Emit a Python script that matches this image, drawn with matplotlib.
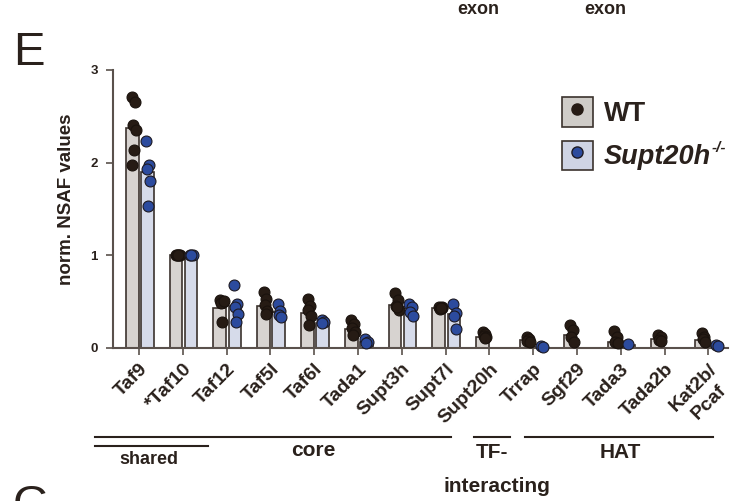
import matplotlib
matplotlib.use('Agg')
import matplotlib.pyplot as plt
from matplotlib.patches import Patch
from matplotlib.lines import Line2D
from matplotlib.legend_handler import HandlerTuple

plt.rcParams['font.family'] = ['Liberation Sans', 'DejaVu Sans']
narrow = ['Liberation Sans Narrow', 'Liberation Sans', 'DejaVu Sans']

genes = ['Taf9', '*Taf10', 'Taf12', 'Taf5l', 'Taf6l', 'Tada1', 'Supt3h', 'Supt7l',
         'Supt20h', 'Trrap', 'Sgf29', 'Tada3', 'Tada2b', 'Kat2b/\nPcaf']

wt_mean = [2.37, 1.00, 0.43, 0.45, 0.38, 0.20, 0.46, 0.43, 0.12, 0.09, 0.14, 0.06, 0.10, 0.09]
ko_mean = [1.90, 1.00, 0.45, 0.39, 0.27, 0.07, 0.40, 0.37, 0.00, 0.01, 0.00, 0.03, 0.00, 0.02]

wt_points = [
    [2.71, 2.66, 2.41, 2.35, 2.14, 1.98],
    [1.00, 1.00, 1.00, 1.00, 1.00],
    [0.52, 0.50, 0.49, 0.51, 0.28],
    [0.60, 0.53, 0.46, 0.40, 0.37],
    [0.53, 0.45, 0.41, 0.34, 0.25],
    [0.30, 0.26, 0.22, 0.17, 0.14],
    [0.59, 0.52, 0.45, 0.41, 0.44],
    [0.44, 0.43, 0.42, 0.44, 0.43],
    [0.17, 0.15, 0.13, 0.12, 0.11],
    [0.12, 0.10, 0.08, 0.07],
    [0.25, 0.19, 0.12, 0.07],
    [0.18, 0.12, 0.07, 0.05],
    [0.14, 0.12, 0.09, 0.08],
    [0.16, 0.12, 0.10, 0.07],
]
ko_points = [
    [2.23, 1.97, 1.93, 1.80, 1.53],
    [1.00, 1.00, 1.00],
    [0.68, 0.48, 0.44, 0.37, 0.28],
    [0.47, 0.40, 0.36, 0.33],
    [0.30, 0.28, 0.27],
    [0.10, 0.07, 0.05],
    [0.48, 0.44, 0.39, 0.34],
    [0.48, 0.38, 0.34, 0.21],
    [],
    [0.02, 0.01],
    [],
    [0.04],
    [],
    [0.03, 0.02],
]

wt_fill, ko_fill = '#d7d3d0', '#d6dbea'
edge = '#3b322d'
ink = '#2a211c'
wt_dot, ko_dot = '#261b14', '#2c4b9e'
jitter = [-0.03, 0.03, -0.01, 0.05, 0.01, -0.04]

fig = plt.figure(figsize=(7.31, 5.01), dpi=100)
ax = fig.add_axes([113 / 731, 1 - 348 / 501, 615 / 731, 278 / 501])

x = list(range(len(genes)))
w = 0.29
ax.bar([i - 0.155 for i in x], wt_mean, width=w, color=wt_fill, edgecolor=edge, linewidth=1.2, zorder=2)
ax.bar([i + 0.19 for i in x], ko_mean, width=w, color=ko_fill, edgecolor=edge, linewidth=1.2, zorder=2)

for i in x:
    for k, v in enumerate(wt_points[i]):
        ax.scatter(i - 0.12 + jitter[k % len(jitter)], v, s=62, color=wt_dot,
                   edgecolor='#1a120d', linewidth=0.8, zorder=3, clip_on=False)
    for k, v in enumerate(ko_points[i]):
        ax.scatter(i + 0.2 + jitter[k % len(jitter)], v, s=62, color=ko_dot,
                   edgecolor='#1d1a22', linewidth=0.8, zorder=4, clip_on=False)

ax.set_xlim(-0.594, 13.45)
ax.set_ylim(0, 3)
ax.set_yticks([0, 1, 2, 3])
ax.set_yticklabels(['0', '1', '2', '3'], fontsize=9.5, fontweight='bold', color=ink)

# two-line names: first line as the tick label, second line set just below it
first_lines = [g.split('\n')[0] for g in genes]
tick_style = dict(rotation=45, ha='right', rotation_mode='anchor', fontsize=14,
                  fontweight='bold', color=ink)
ax.set_xticks(x)
ax.set_xticklabels(first_lines, **tick_style)
for i, g in enumerate(genes):
    if '\n' in g:
        ax.annotate(g.split('\n')[1], xy=(i, 0), xycoords=('data', 'axes fraction'),
                    xytext=(6.5, -24), textcoords='offset points', va='top', **tick_style)

ax.tick_params(axis='both', direction='out', color='#5a514c', width=1.2, length=5)
ax.tick_params(axis='x', pad=4)
ax.tick_params(axis='y', pad=6)
for s in ['top', 'right']:
    ax.spines[s].set_visible(False)
for s in ['left', 'bottom']:
    ax.spines[s].set_color('#5a514c')
    ax.spines[s].set_linewidth(1.5)

ax.set_ylabel('norm. NSAF values', fontsize=13.5, fontweight='bold', color=ink, labelpad=3)
ax.yaxis.set_label_coords(-0.062, 0.535)

# legend: grey/lavender square with a dot in the middle
h_wt = (Patch(facecolor='#cfccc8', edgecolor=edge, linewidth=1.2),
        Line2D([], [], marker='o', color='none', markerfacecolor=wt_dot, markeredgecolor=wt_dot, markersize=8))
h_ko = (Patch(facecolor='#cfd4e4', edgecolor=edge, linewidth=1.2),
        Line2D([], [], marker='o', color='none', markerfacecolor=ko_dot, markeredgecolor='#1d1a22', markersize=8))
leg = ax.legend([h_wt, h_ko], ['WT', 'Supt20h'],
                handler_map={tuple: HandlerTuple(ndivide=1, pad=0)},
                loc='upper left', bbox_to_anchor=(0.69, 0.99), frameon=False,
                handlelength=1.15, handleheight=1.3, handletextpad=0.4, labelspacing=0.5,
                prop={'weight': 'bold', 'size': 19.5})
leg.get_texts()[1].set_style('italic')
for t in leg.get_texts():
    t.set_color(ink)

# superscript "-/-" after the knockout label
fig.canvas.draw()
bb = leg.get_texts()[1].get_window_extent()
fig.text(bb.x1 / 731 + 0.001, (bb.y1 + 3) / 501, '-/-', fontsize=11, fontweight='bold',
         style='italic', color=ink, va='top', ha='left')

# subunit module brackets under the gene names
line_y = 437
for x0, x1, yy in [(95, 451, line_y), (95, 208, 446), (474, 510, line_y), (525, 713, line_y)]:
    fig.add_artist(Line2D([x0 / 731, x1 / 731], [1 - yy / 501] * 2, color=ink, lw=1.5))

lab = dict(ha='center', va='center', fontweight='bold', color=ink, family=narrow)
fig.text(149 / 731, 1 - 460 / 501, 'shared', fontsize=13, **lab)
fig.text(313 / 731, 1 - 451 / 501, 'core', fontsize=15, **lab)
fig.text(492 / 731, 1 - 452 / 501, 'TF-', fontsize=15, **lab)
fig.text(497 / 731, 1 - 486 / 501, 'interacting', fontsize=15, **lab)
fig.text(620 / 731, 1 - 452 / 501, 'HAT', fontsize=15, **lab)

# panel letters and headings from the neighbouring panel
fig.text(478 / 731, 1 - 9 / 501, 'exon', fontsize=13, **lab)
fig.text(605 / 731, 1 - 9 / 501, 'exon', fontsize=13, **lab)
fig.text(13 / 731, 1 - 65 / 501, 'E', fontsize=34, color=ink, va='baseline')
fig.text(13 / 731, 1 - 484 / 501, 'G', fontsize=34, color=ink, va='top')

fig.savefig('out.png', dpi=100)
